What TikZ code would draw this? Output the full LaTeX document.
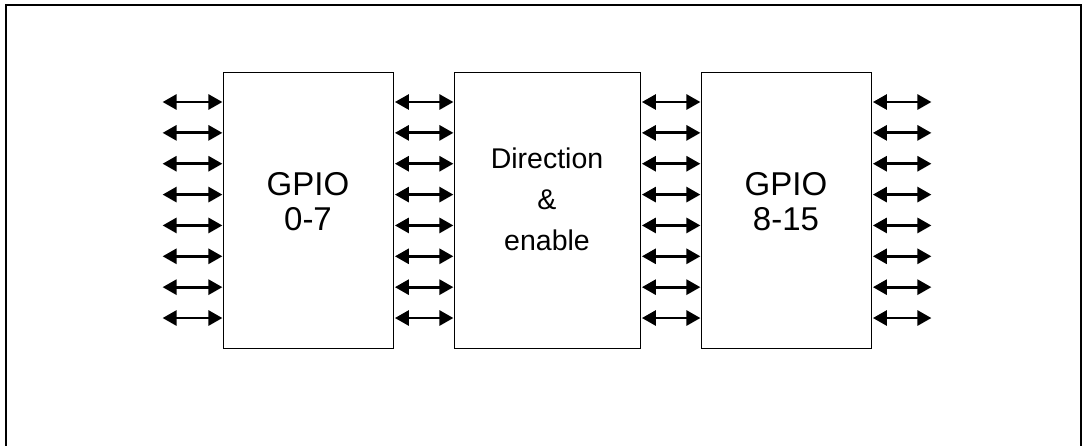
\documentclass[tikz,border=0pt]{standalone}
\usepackage{fontspec}
\setmainfont{Liberation Sans}
\usetikzlibrary{arrows.meta,calc}
\begin{document}
\begin{tikzpicture}[x=1pt,y=-1pt,
  blk/.style={draw,line width=1.3pt,minimum width=170pt,minimum height=276pt,anchor=north west,inner sep=0pt},
  biarrow/.style={line width=2.8pt,{Triangle[length=14pt,width=15pt]}-{Triangle[length=14pt,width=15pt]},shorten <=0.6pt,shorten >=0.6pt},
  lbl/.style={align=center,font=\fontsize{33}{35}\selectfont},
  lblb/.style={align=center,font=\fontsize{28.5}{41}\selectfont}]
\useasboundingbox (0,0) rectangle (1082,445);
\draw[line width=2.6pt] (6,446) -- (6,5) -- (1081,5) -- (1081,446);
\node[blk] (b1) at (223,72) {};
\node[blk,minimum width=186pt] (b2) at (454,72) {};
\node[blk] (b3) at (701,72) {};
\node[lbl] (t1) at (308,202) {GPIO\\0-7};
\node[lbl] (t3) at (786,202) {GPIO\\8-15};
\node[lblb] (t2) at (547,199) {Direction\\\&\\enable};
\foreach \k in {0,...,7}{
  \coordinate (r\k) at (0,{102+30.86*\k});
  \coordinate (L\k) at (162,{102+30.86*\k});
  \coordinate (R\k) at (932,{102+30.86*\k});
  \draw[biarrow] (L\k) -- (b1.west |- r\k);
  \draw[biarrow] (b1.east |- r\k) -- (b2.west |- r\k);
  \draw[biarrow] (b2.east |- r\k) -- (b3.west |- r\k);
  \draw[biarrow] (b3.east |- r\k) -- (R\k);
}
\end{tikzpicture}
\end{document}
